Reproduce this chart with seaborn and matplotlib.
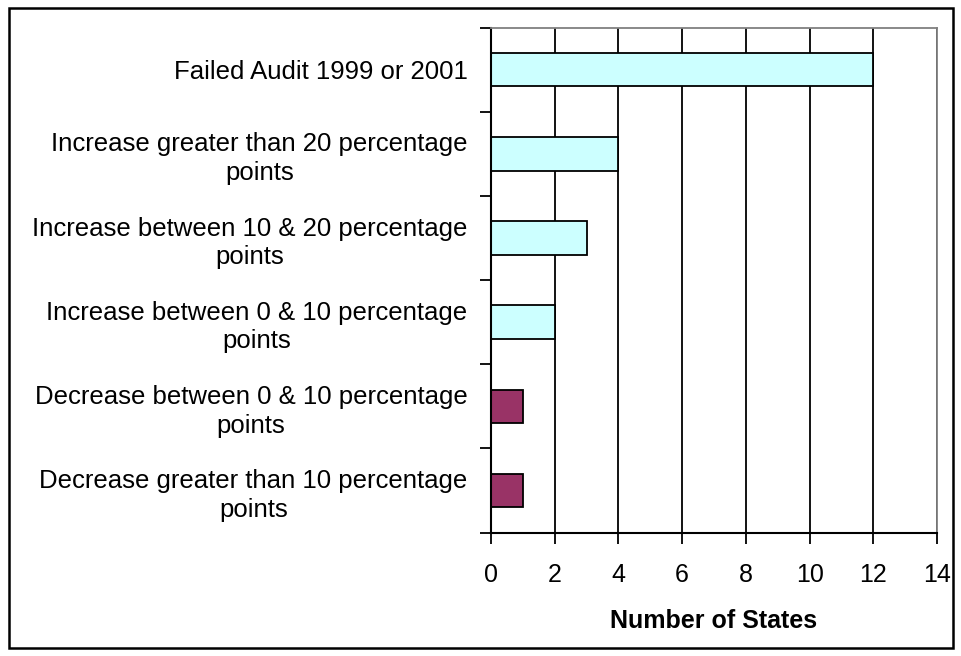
import matplotlib
matplotlib.use("Agg")
import matplotlib.pyplot as plt
import seaborn as sns
import pandas as pd
import numpy as np
from matplotlib.patches import Rectangle

categories = [
    "Failed Audit 1999 or 2001",
    "Increase greater than 20 percentage\npoints",
    "Increase between 10 & 20 percentage\npoints",
    "Increase between 0 & 10 percentage\npoints",
    "Decrease between 0 & 10 percentage\npoints",
    "Decrease greater than 10 percentage\npoints",
]
values = [12, 4, 3, 2, 1, 1]
groups = ["up", "up", "up", "up", "down", "down"]
palette = {"up": "#CCFFFF", "down": "#993366"}
x_ticks = [0, 2, 4, 6, 8, 10, 12, 14]

sns.set_style("white")
plt.rcParams['font.family'] = ['Liberation Sans', 'DejaVu Sans']
plt.rcParams['text.color'] = 'black'
plt.rcParams['xtick.color'] = 'black'
plt.rcParams['ytick.color'] = 'black'
plt.rcParams['axes.labelcolor'] = 'black'

df = pd.DataFrame({"cat": categories, "val": values, "grp": groups})

fig = plt.figure(figsize=(9.61, 6.56), dpi=100)
ax = fig.add_axes([0.511, 0.188, 0.464, 0.770])

sns.barplot(data=df, y="cat", x="val", hue="grp", palette=palette, orient="h",
            width=0.4, edgecolor="black", linewidth=1.3, legend=False, dodge=False,
            saturation=1, ax=ax)

ax.set_xlim(0, 14)
ax.set_ylim(5.5, -0.5)
ax.set_xticks(x_ticks)
ax.set_xticklabels([str(t) for t in x_ticks], fontsize=18)
ax.grid(axis="x", color="black", linewidth=1.3)
ax.set_axisbelow(True)
ax.set_ylabel("")
ax.set_xlabel("Number of States", fontsize=18, fontweight="bold", labelpad=16)

ax.tick_params(axis="y", which="major", length=0, labelsize=18.5, pad=17)
ax.set_yticks(np.arange(-0.5, 6.0, 1.0), minor=True)
ax.tick_params(axis="y", which="minor", length=8, width=1.3, color="black", direction="out", left=True)
ax.tick_params(axis="x", which="major", length=8, width=1.3, color="black", direction="out", bottom=True, pad=14)
for lab in ax.get_yticklabels():
    lab.set_horizontalalignment("right")
    lab.set_multialignment("center")
    lab.set_linespacing(1.25)

for s in ["left", "bottom"]:
    ax.spines[s].set_color("black")
    ax.spines[s].set_linewidth(1.5)
for s in ["top", "right"]:
    ax.spines[s].set_color("#808080")
    ax.spines[s].set_linewidth(1.3)

fig.patches.append(Rectangle((9/961, 8/656), (953-9)/961, (648-8)/656, transform=fig.transFigure,
                             fill=False, edgecolor="black", linewidth=1.8))

fig.savefig("out.png", dpi=100)
